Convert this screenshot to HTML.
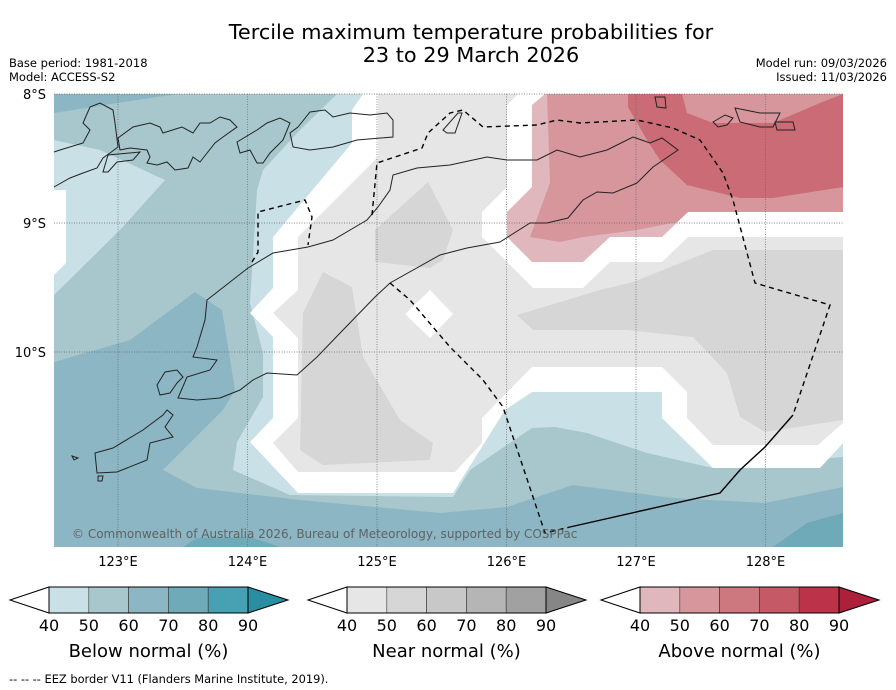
<!DOCTYPE html>
<html><head><meta charset="utf-8"><style>
body{margin:0;background:#fff;width:896px;height:690px;overflow:hidden;font-family:"DejaVu Sans","Liberation Sans",sans-serif;}
svg{display:block}
</style></head><body>
<svg id="fig" width="896" height="690" viewBox="0 0 896 690" font-family="DejaVu Sans, Liberation Sans, sans-serif">
<text x="471" y="39" font-size="20.8" text-anchor="middle">Tercile maximum temperature probabilities for</text>
<text x="471" y="62" font-size="20.8" text-anchor="middle">23 to 29 March 2026</text>
<text x="9" y="67" font-size="11.5">Base period: 1981-2018</text>
<text x="9" y="81" font-size="11.5">Model: ACCESS-S2</text>
<text x="887" y="67" font-size="11.5" text-anchor="end">Model run: 09/03/2026</text>
<text x="887" y="81" font-size="11.5" text-anchor="end">Issued: 11/03/2026</text>
<defs><clipPath id="mc"><rect x="54" y="94" width="789" height="453"/></clipPath></defs>
<g clip-path="url(#mc)">
<rect x="54" y="94" width="789" height="453" fill="#c9e0e6"/>
<polygon fill="#a7c7cc" points="54,94 337,94 300,130 263,170 257,190 250,303 263,353 263,397 237,442 233,470 290,495 453,497 470,470 532,428 555,427 587,433 647,453 713,468 843,457 843,547 54,547"/>
<polygon fill="#c9e0e6" points="54,140 100,150 165,180 120,230 54,295"/>
<polygon fill="#fff" points="54,190 66,190 66,263 54,275"/>
<polygon fill="#8cb6c3" points="54,362 130,340 195,292 222,310 235,390 223,410 163,470 197,488 300,500 440,513 507,507 573,485 673,498 765,503 843,487 843,547 54,547"/>
<polygon fill="#8cb6c3" points="54,94 177,94 117,103 54,113"/>
<polygon fill="#6eaab8" points="773,547 807,523 843,513 843,547"/>
<polygon fill="#6eaab8" points="183,547 197,538 250,537 280,547"/>
<polygon fill="#fff" points="363,94 843,94 843,443 820,468 713,468 662,418 662,392 532,392 505,410 453,493 298,493 250,442 273,418 273,337 250,313 273,288 273,237 352,143 352,110"/>
<polygon fill="#e6e6e6" points="378,94 518,94 507,105 507,187 482,212 482,237 533,288 583,288 610,262 662,262 688,237 843,237 843,423 818,445 713,445 687,418 687,392 662,367 532,367 482,418 482,443 455,472 298,472 273,443 298,418 298,338 273,313 298,290 298,237 378,157"/>
<polygon fill="#fff" points="405,314 430,290 453,314 430,338"/>
<polygon fill="#d6d6d6" points="323,272 352,287 363,357 400,420 433,443 430,460 323,465 300,450 303,313"/>
<polygon fill="#d6d6d6" points="375,230 428,182 453,230 443,260 430,268 375,262"/>
<polygon fill="#d6d6d6" points="517,315 600,290 633,282 713,250 843,250 843,420 765,432 740,417 727,373 693,337 627,330 533,330"/>
<polygon fill="#e0b7bd" points="545,94 843,94 843,212 688,212 662,237 610,237 583,262 532,262 507,237 507,212 532,187 532,105"/>
<polygon fill="#d7959c" points="547,94 843,94 843,212 688,212 677,222 637,230 583,237 560,242 530,237 550,183"/>
<polygon fill="#ca6b75" points="628,94 682,94 687,113 713,123 773,123 820,103 843,94 843,187 773,198 740,198 687,185 660,160 647,140 628,107"/>
</g>
<g stroke="#666" stroke-width="0.7" stroke-dasharray="1,1.5" fill="none" id="grid"></g>
<g stroke="#222" stroke-width="1" fill="none">
<polyline points="248,268 273,253 308,247 333,240 367,220 378,207 390,190 393,175 417,168 450,165 487,157 507,160 537,160 557,150 580,157 607,150 633,137 650,143 662,138 678,150 653,167 637,183 613,193 597,192 583,200 568,218 547,223 530,223 500,242 467,248 440,255 390,283 375,297 343,330 317,357 297,375 267,373 253,380 240,390 220,398 197,400 178,398 187,377 210,370 217,360 193,357 197,347 205,320 207,300 248,268"/>
<polyline points="54,187 70,178 83,173 97,168 103,158 110,153 118,147 115,123 113,110 100,103 90,107 83,123 90,130 83,143 60,150 54,152"/>
<polygon points="118,138 133,127 150,123 160,127 163,133 182,127 193,133 200,123 210,123 220,117 230,120 237,127 223,137 215,143 200,162 193,157 188,168 175,170 167,162 157,165 147,163 150,157 147,150 130,148 120,150"/>
<polygon points="103,172 108,155 130,153 140,152 133,160 117,162 108,172"/>
<polygon points="237,142 257,130 267,123 280,118 290,123 283,140 270,153 263,163 257,163 250,150 240,153"/>
<polygon points="298,127 310,112 325,110 333,117 350,113 370,115 387,113 393,120 393,137 357,140 333,147 310,150 293,147 290,133"/>
<polygon points="157,385 165,372 177,370 183,377 177,383 170,393 160,395"/>
<polygon points="95,453 113,448 143,430 163,415 167,410 173,415 165,427 173,437 150,443 147,460 117,472 97,473"/>
<polygon points="72,456 78,458 74,460"/><polygon points="98,476 103,476 102,481 98,481"/>
<polygon points="655,97 665,97 666,108 657,107"/>
<polygon points="713,122 725,115 733,118 727,125 718,127"/>
<polygon points="735,108 760,113 780,113 773,127 760,127 740,122"/>
<polygon points="775,122 793,122 795,130 777,130"/>
<polygon points="443,130 458,113 462,113 455,133 447,133"/>
</g>
<g stroke="#000" stroke-width="1.4" fill="none">
<polyline stroke-dasharray="5,4" points="252,262 258,252 258,212 305,200 312,217 308,245"/>
<polyline stroke-dasharray="5,4" points="372,215 377,163 422,148 428,133 450,113 463,110 483,127 537,125 557,120 580,123 637,120 673,128 700,140 723,173 733,200 755,283 830,305 793,415"/>
<polyline points="793,415 765,447 740,470 720,493 570,527"/>
<polyline stroke-dasharray="5,4" points="390,283 410,300 450,347 483,380 503,407 545,533 570,527"/>
</g>
<text x="72" y="538" font-size="12" fill="#555" fill-opacity="0.85">© Commonwealth of Australia 2026, Bureau of Meteorology, supported by COSPPac</text>
<g id="axes" font-size="13"></g>
<g id="cbars"></g>
<text x="9" y="683" font-size="11.4">--  --  -- EEZ border V11 (Flanders Marine Institute, 2019).</text>
</svg>
<script>
const lonTicks = [123, 124, 125, 126, 127, 128];
const latTicks = [8, 9, 10];
const cbLevels = [40, 50, 60, 70, 80, 90];
const cbTitles = ["Below normal (%)", "Near normal (%)", "Above normal (%)"];
const blueColors = ["#c9e0e6", "#a7c7cc", "#8cb6c3", "#6eaab8", "#48a1b3", "#2a8ea3"];
const greyColors = ["#e6e6e6", "#d6d6d6", "#c8c8c8", "#b5b5b5", "#a1a1a1", "#868686"];
const redColors = ["#e0b7bd", "#d7959c", "#cd787e", "#c55a66", "#bc3249", "#ae1f3c"];
const NS = "http://www.w3.org/2000/svg";
function xLon(l){return 118 + (l-123)*129.5;}
function yLat(l){return 94 + (l-8)*129;}
function mk(tag, attrs, parent){const e=document.createElementNS(NS,tag);for(const k in attrs)e.setAttribute(k,attrs[k]);parent.appendChild(e);return e;}
const grid=document.getElementById('grid'), axes=document.getElementById('axes'), cb=document.getElementById('cbars');
lonTicks.forEach(l=>{
  const ln=mk('line',{x1:xLon(l),x2:xLon(l),y1:94,y2:547},grid);
  
  
  const t=mk('text',{x:xLon(l),y:566,'text-anchor':'middle'},axes);t.textContent=l+'°E';
  
  
});
latTicks.forEach(l=>{
  const ln=mk('line',{x1:54,x2:843,y1:yLat(l),y2:yLat(l)},grid);
  
  
  const t=mk('text',{x:46,y:yLat(l)+5,'text-anchor':'end'},axes);t.textContent=l+'°S';
  
  
});
const bars=[{x0:10,c:blueColors},{x0:308,c:greyColors},{x0:601,c:redColors}];
bars.forEach((b,i)=>{
  const g=mk('g',{},cb);
  
  
  const x1=b.x0+39, bw=39.8, n=cbLevels.length-1, x2=x1+bw*n, y0=587, y1=613;
  const lt=mk('polygon',{points:`${b.x0},600 ${x1},${y0} ${x1},${y1}`,fill:'#fff',stroke:'#000','stroke-width':1},g);
  
  
  for(let k=0;k<n;k++){
    const r=mk('rect',{x:x1+k*bw,y:y0,width:bw,height:y1-y0,fill:b.c[k],stroke:'#333','stroke-width':0.6},g);
    
    
  }
  const rt=mk('polygon',{points:`${x2},${y0} ${x2+40},600 ${x2},${y1}`,fill:b.c[5],stroke:'#000','stroke-width':1},g);
  
  
  mk('rect',{x:x1,y:y0,width:x2-x1,height:y1-y0,fill:'none',stroke:'#000','stroke-width':1},g);
  cbLevels.forEach((v,k)=>{
    const t=mk('text',{x:x1+k*bw,y:631,'font-size':16,'text-anchor':'middle'},g);t.textContent=v;
    
    
  });
  const tt=mk('text',{x:(x1+x2)/2,y:657,'font-size':18,'text-anchor':'middle'},g);tt.textContent=cbTitles[i];
  
  
});
</script>
</body></html>
